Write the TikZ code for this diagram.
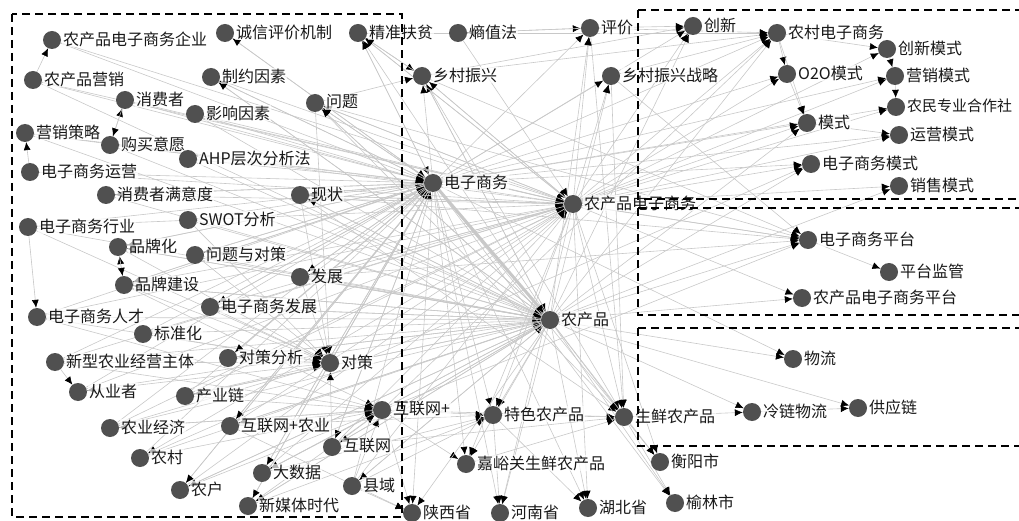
\documentclass[tikz,border=0pt]{standalone}
\usepackage{fontspec}
\setmainfont{Noto Sans CJK SC}
\usetikzlibrary{arrows.meta,backgrounds}
\definecolor{dotgray}{HTML}{505050}
\definecolor{edgegray}{HTML}{C8C8C8}
\newcommand\nd[4]{\node[dot] (#1) at (#2,#3) {}; \node[lab] (#1-l) at (#2+10,#3-1) {#4};}
\begin{document}
\begin{tikzpicture}[x=1pt,y=-1pt,
  dot/.style={circle,fill=dotgray,minimum size=18pt,inner sep=0pt},
  lab/.style={anchor=west,inner sep=1pt,font=\fontsize{16}{17}\selectfont,text=black!90,fill=white,fill opacity=0.7,text opacity=1},
  edge/.style={draw=edgegray,line width=0.6pt,-{Latex[length=8pt,width=7pt,color=black]}},
  thickedge/.style={draw=edgegray,line width=3pt,-{Latex[length=8pt,width=7pt,color=black]}},
  box/.style={draw=black,line width=2pt,dash pattern=on 8pt off 5pt}]
\useasboundingbox (0,0) rectangle (1019,521);
\clip (0,0) rectangle (1019,521);
% left cluster
\nd{qy}{52}{40}{农产品电子商务企业}
\nd{cx}{225}{33}{诚信评价机制}
\nd{jz}{358}{33}{精准扶贫}
\nd{yx}{33}{80}{农产品营销}
\nd{zy}{211}{77}{制约因素}
\nd{xf}{125}{100}{消费者}
\nd{yy}{195}{114}{影响因素}
\nd{wt}{315}{103}{问题}
\nd{cl}{25}{133}{营销策略}
\nd{gm}{110}{145}{购买意愿}
\nd{ahp}{188}{159}{AHP层次分析法}
\nd{yun}{30}{172}{电子商务运营}
\nd{myd}{106}{195}{消费者满意度}
\nd{xz}{300}{195}{现状}
\nd{hy}{28}{227}{电子商务行业}
\nd{swot}{188}{220}{SWOT分析}
\nd{ppz}{118}{247}{品牌化}
\nd{wtdc}{195}{255}{问题与对策}
\nd{fz}{300}{277}{发展}
\nd{ppjs}{124}{285}{品牌建设}
\nd{dsfz}{210}{307}{电子商务发展}
\nd{rc}{37}{317}{电子商务人才}
\nd{bzh}{143}{334}{标准化}
\nd{xx}{55}{362}{新型农业经营主体}
\nd{dcfx}{228}{358}{对策分析}
\nd{dc}{330}{363}{对策}
\nd{cyz}{78}{392}{从业者}
\nd{cyl}{185}{396}{产业链}
\nd{hlwp}{382}{410}{互联网+}
\nd{nyjj}{110}{428}{农业经济}
\nd{hlwny}{230}{426}{互联网+农业}
\nd{hlw}{332}{447}{互联网}
\nd{nc}{140}{458}{农村}
\nd{dsj}{262}{473}{大数据}
\nd{xy}{352}{486}{县域}
\nd{nh}{180}{490}{农户}
\nd{xmt}{248}{506}{新媒体时代}
% middle
\nd{szf}{458}{33}{熵值法}
\nd{pj}{590}{28}{评价}
\nd{xczx}{422}{76}{乡村振兴}
\nd{zxzl}{611}{76}{乡村振兴战略}
\nd{ds}{433}{183}{电子商务}
\nd{ncpds}{573}{204}{农产品电子商务}
\nd{ncp}{550}{320}{农产品}
\nd{ts}{493}{415}{特色农产品}
\nd{sx}{624}{417}{生鲜农产品}
\nd{jyg}{466}{464}{嘉峪关生鲜农产品}
\nd{sxs}{412}{513}{陕西省}
\nd{hn}{500}{513}{河南省}
\nd{hb}{588}{508}{湖北省}
% right
\nd{cxin}{693}{26}{创新}
\nd{ncds}{777}{33}{农村电子商务}
\nd{cxms}{887}{49}{创新模式}
\nd{o2o}{787}{74}{O2O模式}
\nd{yxms}{895}{76}{营销模式}
\node[dot] (hzs) at (896,107) {};
\node[lab,font=\fontsize{15}{16}\selectfont] (hzs-l) at (906,106) {农民专业合作社};
\nd{ms}{807}{123}{模式}
\nd{yyms}{899}{135}{运营模式}
\nd{dsms}{811}{164}{电子商务模式}
\nd{xsms}{899}{186}{销售模式}
\nd{pt}{808}{240}{电子商务平台}
\nd{jg}{889}{272}{平台监管}
\nd{ncppt}{802}{298}{农产品电子商务平台}
\nd{wl}{793}{359}{物流}
\nd{llwl}{752}{412}{冷链物流}
\nd{gyl}{858}{408}{供应链}
\nd{hys}{660}{462}{衡阳市}
\nd{yls}{675}{503}{榆林市}
\begin{pgfonlayer}{background}
\foreach \t/\ss in {
 ds/{qy,yx,xf,cl,yun,myd,hy,rc,xx,cyz,nyjj,nc,nh,xmt,hlwny,dsj,xy,zy,yy,gm,ahp,swot,ppz,ppjs,bzh,cyl,dcfx,wtdc,dsfz,xz,fz,wt,jz,cx,hlw,dc},
 ncpds/{qy,yx,xf,cl,yun,hy,rc,cyz,nyjj,xx,nh,myd,ppjs,bzh,cyl,hlwny,dsj,xy,xz,wt,fz,dsfz,xczx,szf,jz,hlw,zy,yy},
 ncp/{yx,cl,ppz,ppjs,bzh,xx,nyjj,nc,nh,xmt,cyl,dsj,xy,hlwny,dcfx,wtdc,dsfz,fz,xz,wt,hlw,xczx,zy,yy,myd,gm,swot,ahp,rc,hy},
 dc/{wtdc,dcfx,xz,fz,wt,dsfz,hlw,ppjs,ppz,xx,cyz,rc,hy,nyjj,cyl,swot,bzh},
 hlwp/{hlwny,hlw,dsj,xmt,xy,nh,nc,nyjj,cyl,ppjs,rc,xx},
 sx/{ncp,ds,ncpds,hlw,hlwp,zxzl,xczx,pj,xz,wt,ts,jyg},
 ts/{hlwp,ncp,ds,dsj,xy,xmt,ncpds,hlwny},
 jyg/{ds,ncp,hlwp,ncpds},
 sxs/{ds,ncp,xy,hlwny,hlwp},
 hn/{ds,ncp,ts,ncpds},
 hb/{ncp,ds,ncpds,ts},
 hys/{sx,ncp,ncpds},
 yls/{sx,ncp,ds},
 llwl/{sx,ncp},
 gyl/{llwl,ncp},
 wl/{ncp,ds},
 pt/{ds,ncpds,ncp,xczx,zxzl,hlwp,xz,wt,fz},
 jg/{pt},
 ncppt/{ncp,ncpds},
 ncds/{ds,xczx,zxzl,jz,pj,hlwp,ncp,ncpds},
 cxin/{ds,ncpds,xczx,pj,ncp},
 o2o/{ncds,ds,ncpds},
 cxms/{ncds,ncpds},
 yxms/{cxms,ncpds,ds},
 hzs/{yxms,ncpds,ds},
 ms/{ncds,ds,ncpds,ncp,o2o},
 yyms/{ds,ncpds,ms},
 dsms/{ds,ncpds,ncp,nc},
 xsms/{ncpds,ncp},
 xczx/{ds,ncpds,jz,ncp,wt},
 zxzl/{ds,ncpds,ncp},
 pj/{ds,ncpds,szf,ncp},
 jz/{ds,ncpds,ncp,xczx},
 szf/{pj},
 wt/{ds,ncpds,ncp},
 xz/{ds,ncpds,ncp},
 fz/{ds,ncpds},
 qy/{yx},
 cx/{ds},
 zy/{ds,ncp},
 xf/{gm},
 gm/{xf},
 cl/{yun},
 rc/{hy},
 ppz/{ppjs,ds,ncp},
 ppjs/{ppz,ncp,ds},
 dsfz/{ds,ncp},
 wtdc/{ds},
 dcfx/{ds,ncp},
 cyz/{xx,ncp},
 cyl/{ncp},
 nyjj/{hlwp},
 hlwny/{ds,ncp},
 hlw/{ds,ncp},
 nc/{ncpds},
 dsj/{ncp,ds},
 xy/{ncp},
 nh/{ds,ncp},
 xmt/{ds,ncp},
 myd/{ds}}
 {\foreach \s in \ss {\draw[edge] (\s) -- (\t);}}
\draw[thickedge] (ds) -- (ncp);
\end{pgfonlayer}
% dashed group boxes
\draw[box] (12,14) rectangle (402,517);
\draw[box] (638,10) -- (1030,10) (638,10) -- (638,199) -- (1030,199);
\draw[box] (638,208) -- (1030,208) (638,208) -- (638,315) -- (1030,315);
\draw[box] (638,328) -- (1030,328) (638,328) -- (638,446) -- (1030,446);
\end{tikzpicture}
\end{document}
